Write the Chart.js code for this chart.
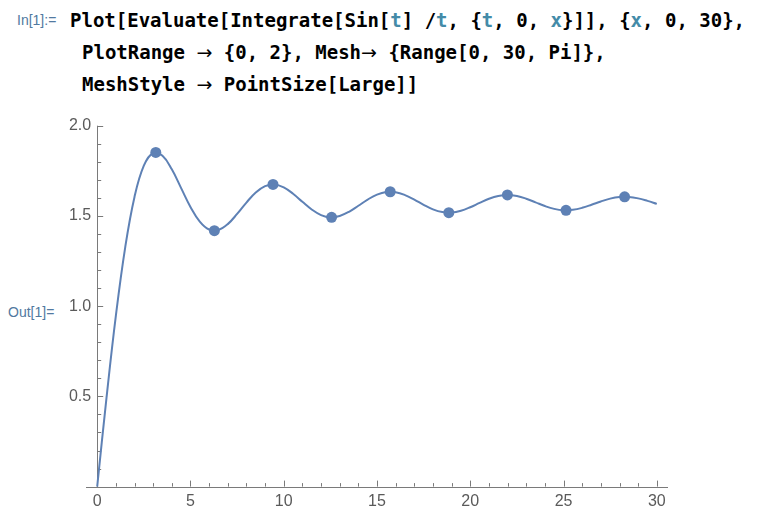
<!DOCTYPE html>
<html>
<head>
<meta charset="utf-8">
<script src="https://cdn.jsdelivr.net/npm/chart.js@4.4.1/dist/chart.umd.min.js"></script>
<style>
  html, body { margin: 0; padding: 0; background: #fff; }
  body { width: 761px; height: 520px; position: relative; overflow: hidden; }
  #plot { position: absolute; left: 0; top: 0; }
  .code { position: absolute; font-family: "DejaVu Sans Mono", monospace; font-weight: bold;
          font-size: 19px; line-height: 32px; color: #000; white-space: pre; }
  .v { color: #448ba8; }
  .ar { font-family: "DejaVu Sans", sans-serif; font-weight: normal; }
  .lbl { position: absolute; font-family: "Liberation Sans", Arial, sans-serif; font-size: 14px;
         color: #5179a0; white-space: pre; }
</style>
</head>
<body>
<div class="lbl" style="left:17px; top:12px;">In[1]:=</div>
<div class="code" style="left:70px; top:4px;">Plot[Evaluate[Integrate[Sin[<span class="v">t</span>] /<span class="v">t</span>, {<span class="v">t</span>, 0, <span class="v">x</span>}]], {<span class="v">x</span>, 0, 30},</div>
<div class="code" style="left:82px; top:36px;">PlotRange <span class="ar">→</span> {0, 2}, Mesh<span class="ar">→</span> {Range[0, 30, Pi]},</div>
<div class="code" style="left:82px; top:68px;">MeshStyle <span class="ar">→</span> PointSize[Large]]</div>
<div class="lbl" style="left:8px; top:304px;">Out[1]=</div>
<canvas id="plot" width="761" height="520"></canvas>
<script>
// curve samples, Si(x)
const curveX = [0, 0.5, 1, 1.5, 2, 2.5, 3, 3.5, 4, 4.5, 5, 5.5, 6, 6.5, 7, 7.5, 8, 8.5, 9, 9.5,
  10, 10.5, 11, 11.5, 12, 12.5, 13, 13.5, 14, 14.5, 15, 15.5, 16, 16.5, 17, 17.5, 18, 18.5, 19, 19.5,
  20, 20.5, 21, 21.5, 22, 22.5, 23, 23.5, 24, 24.5, 25, 25.5, 26, 26.5, 27, 27.5, 28, 28.5, 29, 29.5, 30];
const curveY = [0, 0.4931, 0.9461, 1.3247, 1.6054, 1.7785, 1.8487, 1.8331, 1.7582, 1.6541, 1.5499, 1.4690,
  1.4247, 1.4227, 1.4546, 1.5110, 1.5742, 1.6296, 1.6650, 1.6744, 1.6583, 1.6229, 1.5783, 1.5357,
  1.5048, 1.4923, 1.4999, 1.5229, 1.5562, 1.5907, 1.6182, 1.6326, 1.6313, 1.6156, 1.5905, 1.5615,
  1.5364, 1.5213, 1.5186, 1.5286, 1.5482, 1.5723, 1.5949, 1.6106, 1.6161, 1.6104, 1.5955, 1.5752,
  1.5547, 1.5390, 1.5314, 1.5338, 1.5449, 1.5618, 1.5803, 1.5958, 1.6047, 1.6052, 1.5973, 1.5833, 1.5668];

// mesh points at multiples of Pi
const meshX = [3.1416, 6.2832, 9.4248, 12.5664, 15.7080, 18.8496, 21.9911, 25.1327, 28.2743];
const meshY = [1.8519, 1.4182, 1.6748, 1.4922, 1.6340, 1.5180, 1.6161, 1.5311, 1.6061];

const xTicks = [0, 5, 10, 15, 20, 25, 30];
const xTickLabels = ['0', '5', '10', '15', '20', '25', '30'];
const yTicks = [0.5, 1.0, 1.5, 2.0];
const yTickLabels = ['0.5', '1.0', '1.5', '2.0'];

const lineColor = '#5e81b5';
const axisColor = '#7a7a7a';

const mmaAxes = {
  id: 'mmaAxes',
  beforeDatasetsDraw(chart) {
    const ctx = chart.ctx;
    const xs = chart.scales.x, ys = chart.scales.y;
    const x0 = xs.getPixelForValue(0), y0 = ys.getPixelForValue(0);
    ctx.save();
    ctx.strokeStyle = axisColor;
    ctx.lineWidth = 1;
    ctx.beginPath();
    ctx.moveTo(xs.left, Math.round(y0) + 0.5);
    ctx.lineTo(xs.right, Math.round(y0) + 0.5);
    ctx.moveTo(Math.round(x0) + 0.5, y0);
    ctx.lineTo(Math.round(x0) + 0.5, ys.getPixelForValue(2));
    // x ticks, pointing up into the plot
    for (let i = 0; i <= 30; i++) {
      const px = Math.round(xs.getPixelForValue(i)) + 0.5;
      const len = i % 5 === 0 ? 6 : 3.5;
      ctx.moveTo(px, y0);
      ctx.lineTo(px, y0 - len);
    }
    // y ticks, pointing right
    for (let j = 1; j <= 20; j++) {
      const py = Math.round(ys.getPixelForValue(j / 10)) + 0.5;
      const len = j % 5 === 0 ? 6 : 4;
      ctx.moveTo(x0, py);
      ctx.lineTo(x0 + len, py);
    }
    ctx.stroke();

    ctx.fillStyle = '#5a5a5a';
    ctx.font = '16px "Liberation Sans", Arial, sans-serif';
    ctx.textBaseline = 'middle';
    ctx.textAlign = 'center';
    xTicks.forEach((v, i) => ctx.fillText(xTickLabels[i], xs.getPixelForValue(v), y0 + 15));
    ctx.textAlign = 'right';
    yTicks.forEach((v, i) => ctx.fillText(yTickLabels[i], x0 - 6, ys.getPixelForValue(v)));
    ctx.restore();
  }
};

new Chart(document.getElementById('plot').getContext('2d'), {
  type: 'scatter',
  data: {
    datasets: [
      {
        data: curveX.map((x, i) => ({ x: x, y: curveY[i] })),
        showLine: true,
        borderColor: lineColor,
        borderWidth: 2,
        pointRadius: 0,
        tension: 0.4,
        clip: false
      },
      {
        data: meshX.map((x, i) => ({ x: x, y: meshY[i] })),
        showLine: false,
        pointRadius: 5.5,
        pointBackgroundColor: lineColor,
        pointBorderWidth: 0,
        clip: false
      }
    ]
  },
  options: {
    responsive: false,
    animation: false,
    layout: { padding: { left: 86, right: 93, top: 125.7, bottom: 33.4 } },
    plugins: { legend: { display: false }, tooltip: { enabled: false } },
    scales: {
      x: { type: 'linear', min: -0.6, max: 30.6, display: false },
      y: { type: 'linear', min: 0, max: 2, display: false }
    }
  },
  plugins: [mmaAxes]
});
</script>
</body>
</html>
